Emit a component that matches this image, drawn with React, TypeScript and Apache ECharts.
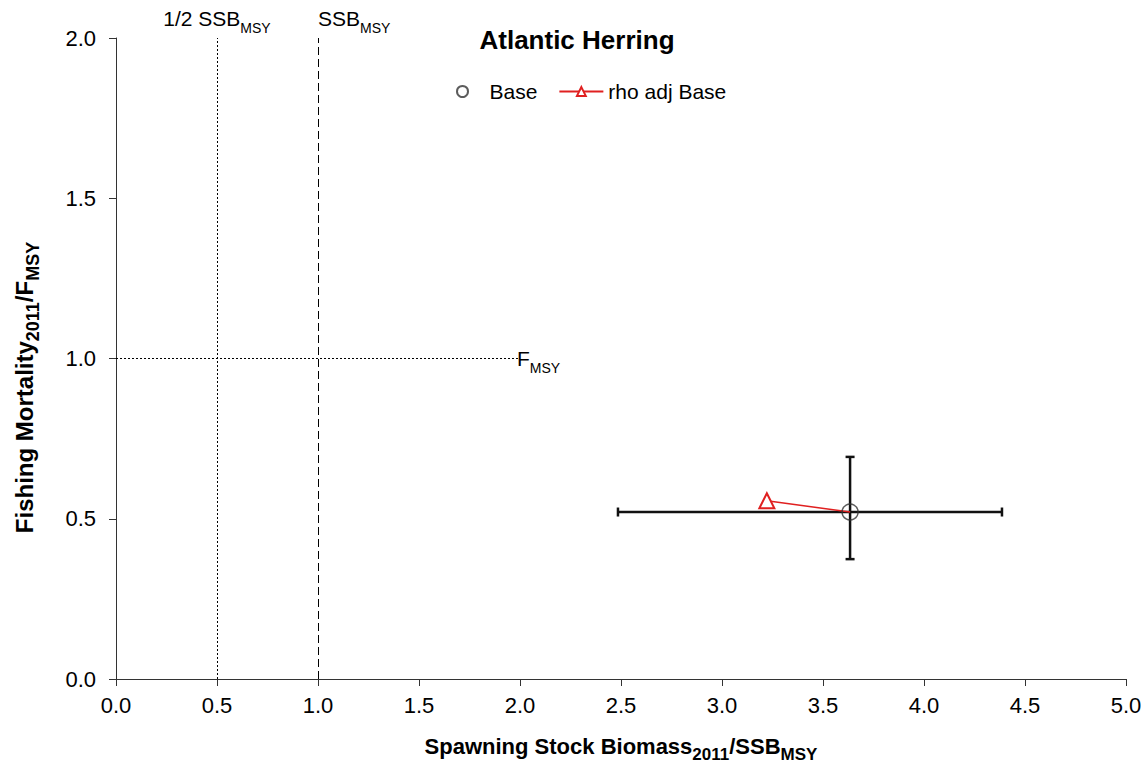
import React, { useEffect, useRef } from "react";
import * as echarts from "echarts";

const xTicks = [0, 0.5, 1.0, 1.5, 2.0, 2.5, 3.0, 3.5, 4.0, 4.5, 5.0];
const yTicks = [0, 0.5, 1.0, 1.5, 2.0];
const base = [3.634, 0.521];
const rhoAdj = [3.222, 0.556];
const ssbCI = [2.485, 4.386];
const fCI = [0.374, 0.693];
const halfSsbMsy = 0.5;
const ssbMsy = 1.0;
const fMsy = 1.0;
const fMsyLineEnd = 2.0;

const FONT = "'Liberation Sans', Arial, sans-serif";

export default function App() {
  const ref = useRef<HTMLDivElement>(null);
  useEffect(() => {
    if (!ref.current) return;
    const chart = echarts.init(ref.current, undefined, { renderer: "svg" });
    const subStyle = { fontSize: 14, fontFamily: FONT, color: "#000", verticalAlign: "bottom", padding: [0, 0, -6, 0] };
    const boldSub = { ...subStyle, fontSize: 17, fontWeight: "bold" };
    const refLabel = {
      show: true,
      position: "end",
      fontSize: 21,
      fontFamily: FONT,
      color: "#000",
      rich: { sub: subStyle },
    };
    const option: any = {
      animation: false,
      backgroundColor: "#fff",
      textStyle: { fontFamily: FONT },
      title: {
        text: "Atlantic Herring",
        left: 572,
        top: 22,
        textAlign: "center",
        textStyle: { fontFamily: FONT, fontWeight: "bold", fontSize: 26, color: "#000" },
      },
      legend: {
        left: 451,
        top: 76,
        itemWidth: 44,
        itemHeight: 11,
        itemGap: 21,
        textStyle: { fontFamily: FONT, fontSize: 21, color: "#000" },
        data: ["Base", "rho adj Base"],
      },
      grid: { left: 116, right: 17, top: 38, bottom: 85, outerBoundsMode: "none" },
      xAxis: {
        type: "value",
        min: xTicks[0],
        max: xTicks[xTicks.length - 1],
        interval: 0.5,
        name: "Spawning Stock Biomass{sub|2011}/SSB{sub|MSY}",
        nameLocation: "middle",
        nameGap: 56,
        nameTextStyle: {
          fontFamily: FONT,
          fontWeight: "bold",
          fontSize: 22,
          color: "#000",
          rich: { sub: boldSub },
        },
        axisLine: { lineStyle: { color: "#333", width: 1 } },
        axisTick: { lineStyle: { color: "#333" }, length: 7 },
        axisLabel: { color: "#000", fontSize: 22, fontFamily: FONT, margin: 15, formatter: (v: number) => v.toFixed(1) },
        splitLine: { show: false },
      },
      yAxis: {
        type: "value",
        min: yTicks[0],
        max: yTicks[yTicks.length - 1],
        interval: 0.5,
        name: "Fishing Mortality{sub|2011}/F{sub|MSY}",
        nameLocation: "middle",
        nameGap: 80,
        nameTextStyle: {
          fontFamily: FONT,
          fontWeight: "bold",
          fontSize: 24,
          color: "#000",
          padding: [0, 58, 0, 0],
          rich: { sub: { ...boldSub, fontSize: 18 } },
        },
        axisLine: { show: true, lineStyle: { color: "#333", width: 1 } },
        axisTick: { show: true, lineStyle: { color: "#333" }, length: 7 },
        axisLabel: { color: "#000", fontSize: 22, fontFamily: FONT, margin: 20, formatter: (v: number) => v.toFixed(1) },
        splitLine: { show: false },
      },
      series: [
        {
          name: "refs",
          type: "line",
          data: [],
          silent: true,
          markLine: {
            silent: true,
            symbol: ["none", "none"],
            animation: false,
            data: [
              [
                {
                  coord: [halfSsbMsy, yTicks[0]],
                  lineStyle: { type: [2, 2], color: "#000", width: 1 },
                  label: { ...refLabel, distance: 9, formatter: "1/2 SSB{sub|MSY}" },
                },
                { coord: [halfSsbMsy, yTicks[yTicks.length - 1]] },
              ],
              [
                {
                  coord: [ssbMsy, yTicks[0]],
                  lineStyle: { type: [8, 4], color: "#000", width: 1 },
                  label: { ...refLabel, distance: 9, align: "left", formatter: "SSB{sub|MSY}" },
                },
                { coord: [ssbMsy, yTicks[yTicks.length - 1]] },
              ],
              [
                {
                  coord: [xTicks[0], fMsy],
                  lineStyle: { type: [2, 2], color: "#000", width: 1 },
                  label: { ...refLabel, distance: -3, formatter: "F{sub|MSY}" },
                },
                { coord: [fMsyLineEnd, fMsy] },
              ],
            ],
          },
        },
        {
          name: "errors",
          type: "custom",
          silent: true,
          z: 2,
          data: [[base[0], base[1], ssbCI[0], ssbCI[1], fCI[0], fCI[1]]],
          renderItem: (params: any, api: any) => {
            const c = api.coord([api.value(0), api.value(1)]);
            const l = api.coord([api.value(2), api.value(1)]);
            const r = api.coord([api.value(3), api.value(1)]);
            const lo = api.coord([api.value(0), api.value(4)]);
            const hi = api.coord([api.value(0), api.value(5)]);
            const st = { stroke: "#111", lineWidth: 2.5 };
            const cap = 4.5;
            const ln = (x1: number, y1: number, x2: number, y2: number) => ({
              type: "line",
              shape: { x1, y1, x2, y2 },
              style: st,
            });
            return {
              type: "group",
              children: [
                ln(l[0], c[1], r[0], c[1]),
                ln(l[0], c[1] - cap, l[0], c[1] + cap),
                ln(r[0], c[1] - cap, r[0], c[1] + cap),
                ln(c[0], lo[1], c[0], hi[1]),
                ln(c[0] - cap, lo[1], c[0] + cap, lo[1]),
                ln(c[0] - cap, hi[1], c[0] + cap, hi[1]),
              ],
            };
          },
        },
        {
          name: "rho adj Base",
          type: "line",
          z: 3,
          symbol: "emptyTriangle",
          symbolSize: 15,
          color: "#e02020",
          lineStyle: { color: "#e02020", width: 1.5 },
          itemStyle: { color: "#e02020", borderColor: "#e02020", borderWidth: 1.5 },
          data: [
            { value: rhoAdj },
            { value: base, symbol: "none" },
          ],
        },
        {
          name: "Base",
          type: "scatter",
          z: 4,
          symbol: "circle",
          symbolSize: 16,
          itemStyle: { color: "rgba(255,255,255,0)", borderColor: "#333", borderWidth: 1.5 },
          data: [base],
        },
      ],
    };
    chart.setOption(option);
    return () => chart.dispose();
  }, []);
  return <div ref={ref} style={{ width: 1143, height: 764, position: "absolute", left: 0, top: 0 }} />;
}
